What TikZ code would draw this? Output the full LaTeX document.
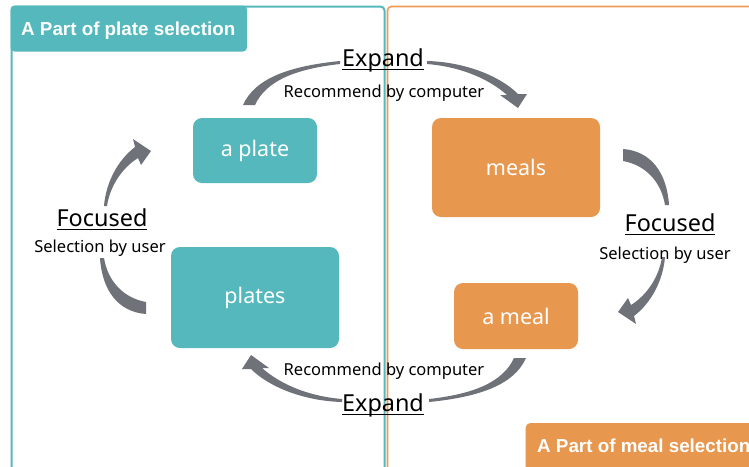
\documentclass[tikz,border=0pt]{standalone}
\usepackage{fontspec}
\setmainfont{Noto Sans}
\newfontfamily\tagfont{Liberation Sans}
\definecolor{tealc}{HTML}{55B8BC}
\definecolor{orangec}{HTML}{E8974E}
\definecolor{panelorange}{HTML}{EE9B55}
\definecolor{arrowc}{HTML}{707279}

% underlined word with a rule a little below the baseline
\newcommand{\ulword}[1]{\sbox0{#1}\rlap{\rule[-4.2pt]{\wd0}{1.3pt}}\usebox0}

% one upper arc (left half, right half with head) and one left arc
\newcommand{\arrowpair}{%
  \fill[arrowc] (243,105) .. controls (255,78) and (290,66) .. (340,61)
     -- (340,64) .. controls (295,69) and (266,81) .. (255,105) -- cycle;
  \fill[arrowc] (427,61) .. controls (465,62) and (500,76) .. (518,94)
     -- (527,94) -- (518,108) -- (500,95) -- (507,95)
     .. controls (490,80) and (463,67) .. (427,64) -- cycle;
  \fill[arrowc] (104,206) .. controls (106,182) and (118,160) .. (135,147)
     -- (133,139) -- (151,151) -- (141,165) -- (138,158)
     .. controls (122,168) and (110,186) .. (107,206) -- cycle;
  \fill[arrowc] (100,258) .. controls (102,290) and (118,312) .. (146,314)
     -- (146,302) .. controls (124,298) and (108,282) .. (104,258) -- cycle;
}

\begin{document}
\begin{tikzpicture}[x=1pt,y=-1pt,
  box/.style={rounded corners=9pt, text=white, inner sep=0pt,
              font=\fontsize{21.5}{25}\selectfont},
  tealbox/.style={box, fill=tealc},
  orangebox/.style={box, fill=orangec},
  smalltext/.style={font=\fontsize{16.5}{20}\selectfont, inner sep=0pt, anchor=base},
  bigtext/.style={font=\fontsize{23.4}{28}\selectfont, inner sep=0pt, anchor=base},
  tagtext/.style={font=\tagfont\bfseries\fontsize{18.8}{22}\selectfont, text=white,
                  inner sep=0pt, anchor=base west}]

\clip (0,0) rectangle (749,466);
\fill[white] (0,0) rectangle (749,466);

% section frames
\draw[tealc, line width=2pt, rounded corners=4pt]
  (11.5,490) -- (11.5,6.5) -- (384.5,6.5) -- (384.5,490);
\draw[panelorange, line width=1.6pt, rounded corners=4pt]
  (387.5,490) -- (387.5,6.5) -- (770,6.5);

% section tags
\fill[tealc, rounded corners=4pt] (10.5,51.5) -- (10.5,5.5) -- (247,5.5) -- (247,51.5) -- cycle;
\node[tagtext] (tagplate) at (21,35.5) {A Part of plate selection};
\fill[orangec, rounded corners=5pt] (525.5,423) rectangle (770,490);
\node[tagtext] (tagmeal) at (537,452) {A Part of meal selection};

% stages
\node[tealbox, minimum width=124pt, minimum height=65pt] (aplate) at (255,150.5) {a plate};
\node[tealbox, minimum width=168pt, minimum height=101pt] (plates) at (255,297.5) {plates};
\node[orangebox, minimum width=168pt, minimum height=99pt] (meals) at (516,167.5) {meals};
\node[orangebox, minimum width=124pt, minimum height=66pt] (ameal) at (516,316) {a meal};

% cycle arrows, point-symmetric about the centre of the cycle
\arrowpair
\begin{scope}[rotate around={180:(384.5,231.5)}]
  \arrowpair
\end{scope}

% arrow labels
\node[bigtext] (expandtop) at (383,66) {\ulword{Expand}};
\node[smalltext] (rectop) at (384,97) {Recommend by computer};
\node[bigtext] (focusleft) at (102,226) {\ulword{Focused}};
\node[smalltext] (selleft) at (100,252) {Selection by user};
\node[bigtext] (focusright) at (670,231) {\ulword{Focused}};
\node[smalltext] (selright) at (665,259) {Selection by user};
\node[smalltext] (recbottom) at (384,375) {Recommend by computer};
\node[bigtext] (expandbottom) at (383,411) {\ulword{Expand}};

\end{tikzpicture}
\end{document}
